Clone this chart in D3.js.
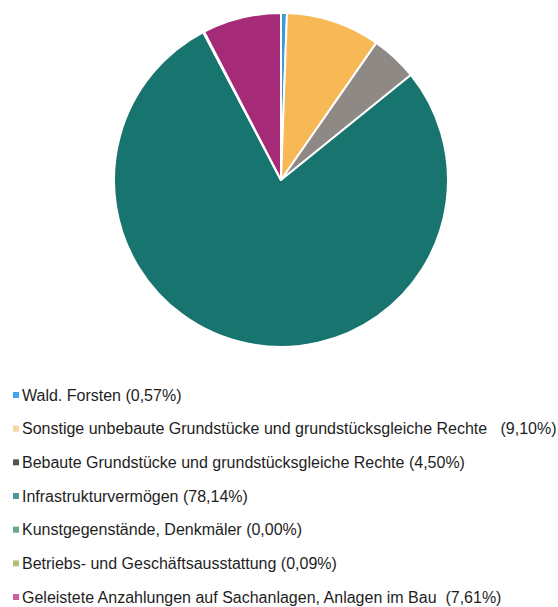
<!DOCTYPE html>
<html>
<head>
<meta charset="utf-8">
<script src="https://cdn.jsdelivr.net/npm/d3@7"></script>
<style>
  html, body { margin: 0; padding: 0; background: #fff; }
  svg { display: block; }
  .legend text { font-family: "Liberation Sans", Arial, sans-serif; font-size: 16px; fill: #1e1e1e; white-space: pre; }
</style>
</head>
<body>
<svg id="chart" width="558" height="607"></svg>
<script>
// Anteile des Sachanlagevermögens (in Prozent)
const categories = [
  "Wald. Forsten",
  "Sonstige unbebaute Grundstücke und grundstücksgleiche Rechte",
  "Bebaute Grundstücke und grundstücksgleiche Rechte",
  "Infrastrukturvermögen",
  "Kunstgegenstände, Denkmäler",
  "Betriebs- und Geschäftsausstattung",
  "Geleistete Anzahlungen auf Sachanlagen, Anlagen im Bau"
];
const shares = [0.57, 9.10, 4.50, 78.14, 0.00, 0.09, 7.61];
const shareLabels = ["(0,57%)", "  (9,10%)", "(4,50%)", "(78,14%)", "(0,00%)", "(0,09%)", " (7,61%)"];
const sliceColors = ["#3d98dc", "#f6b955", "#8e8984", "#18746f", "#5e9e80", "#a9b66e", "#a52b79"];
const legendColors = ["#3fa6ee", "#f3d7a0", "#545454", "#4a9a9c", "#65a88a", "#b0c07e", "#cf5fa3"];

const svg = d3.select("#chart");
const cx = 281, cy = 180, radius = 167;

const pie = d3.pie().value(d => d).sort(null);
const arc = d3.arc().innerRadius(0).outerRadius(radius);

svg.append("g")
  .attr("transform", `translate(${cx},${cy})`)
  .selectAll("path")
  .data(pie(shares))
  .join("path")
  .attr("d", arc)
  .attr("fill", (d, i) => sliceColors[i])
  .attr("stroke", "#fff")
  .attr("stroke-width", 2)
  .attr("stroke-linejoin", "round");

// Legende
const row = d3.scaleLinear().domain([0, categories.length - 1]).range([395, 597]);
const legend = svg.append("g").attr("class", "legend");
const items = legend.selectAll("g")
  .data(categories)
  .join("g")
  .attr("transform", (d, i) => `translate(0,${row(i)})`);

items.append("rect")
  .attr("x", 13).attr("y", -3)
  .attr("width", 6).attr("height", 6)
  .attr("fill", (d, i) => legendColors[i]);

items.append("text")
  .attr("x", 22)
  .attr("dy", "0.36em")
  .text((d, i) => `${d} ${shareLabels[i]}`);
</script>
</body>
</html>
